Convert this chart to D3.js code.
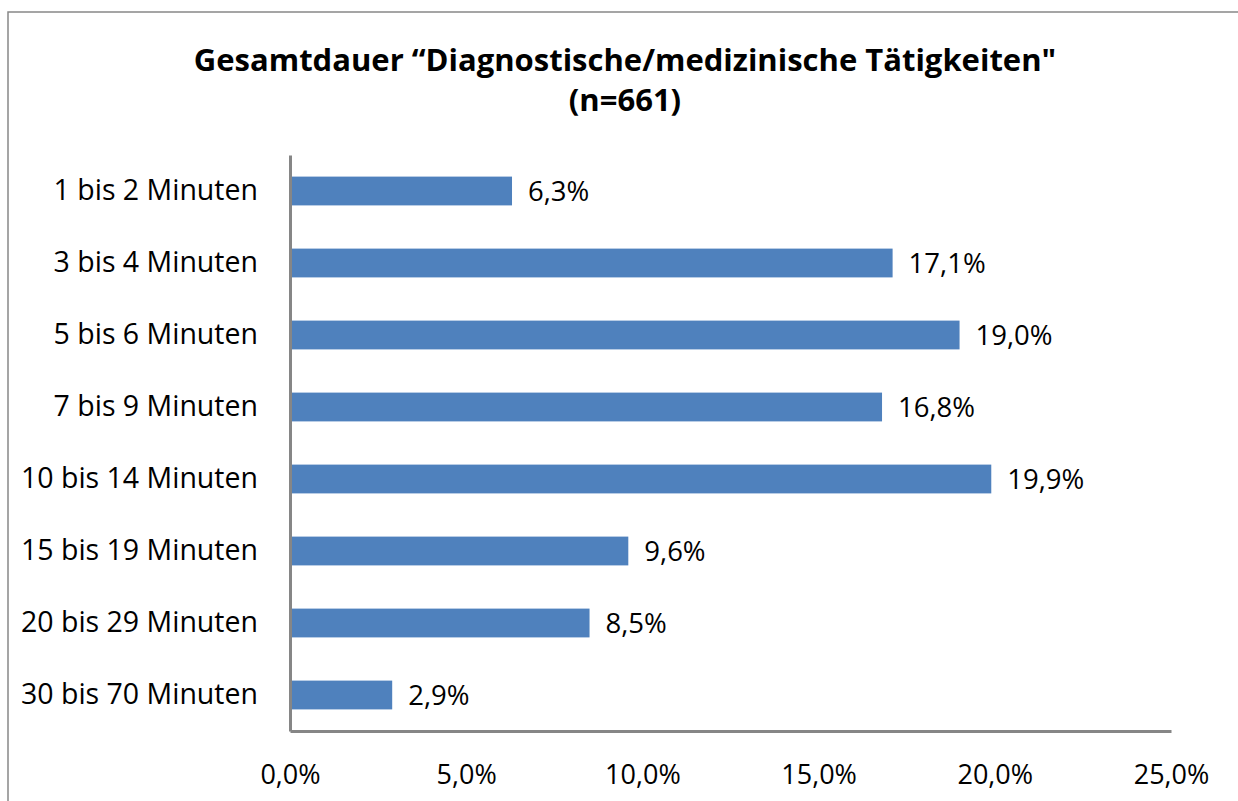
<!DOCTYPE html>
<html>
<head>
<meta charset="utf-8">
<script src="https://cdn.jsdelivr.net/npm/d3@7"></script>
<style>
  body { margin: 0; background: #fff; }
  svg { display: block; font-family: "Open Sans", sans-serif; }
</style>
</head>
<body>
<div id="chart"></div>
<script>
const categories = [
  '1 bis 2 Minuten', '3 bis 4 Minuten', '5 bis 6 Minuten', '7 bis 9 Minuten',
  '10 bis 14 Minuten', '15 bis 19 Minuten', '20 bis 29 Minuten', '30 bis 70 Minuten'
];
const values = [6.3, 17.1, 19.0, 16.8, 19.9, 9.6, 8.5, 2.9];
const xTicks = [0, 5, 10, 15, 20, 25];
const titleLines = ['Gesamtdauer \u201cDiagnostische/medizinische Tätigkeiten"', '(n=661)'];

const W = 1238, H = 801;
const margin = {top: 155, right: 67, bottom: 70, left: 290};
const width = W - margin.left - margin.right;
const height = H - margin.top - margin.bottom;

const fmt = v => v.toFixed(1).replace('.', ',') + '%';

const svg = d3.select('#chart').append('svg')
    .attr('width', W)
    .attr('height', H);

// outer frame
svg.append('rect')
    .attr('x', 8).attr('y', 12)
    .attr('width', W + 10).attr('height', H + 10)
    .attr('fill', 'none')
    .attr('stroke', '#888')
    .attr('stroke-width', 1.5);

svg.append('g')
  .selectAll('text')
  .data(titleLines)
  .join('text')
    .attr('x', 625)
    .attr('y', (d, i) => 71 + i * 40)
    .attr('text-anchor', 'middle')
    .attr('font-weight', 'bold')
    .attr('font-size', 31)
    .attr('fill', '#000')
    .text(d => d);

const g = svg.append('g')
    .attr('transform', `translate(${margin.left},${margin.top})`);

const x = d3.scaleLinear()
    .domain([0, 25])
    .range([0, width]);

const y = d3.scaleBand()
    .domain(categories)
    .range([0, height])
    .paddingInner(0.6)
    .paddingOuter(0.3);

g.selectAll('.bar')
  .data(values)
  .join('rect')
    .attr('class', 'bar')
    .attr('x', 0)
    .attr('y', (d, i) => y(categories[i]))
    .attr('width', d => x(d))
    .attr('height', y.bandwidth())
    .attr('fill', '#4f81bd');

g.selectAll('.val')
  .data(values)
  .join('text')
    .attr('class', 'val')
    .attr('x', d => x(d) + 16)
    .attr('y', (d, i) => y(categories[i]) + y.bandwidth() / 2)
    .attr('dy', '0.36em')
    .attr('font-size', 27.5)
    .attr('fill', '#000')
    .text(fmt);

// category axis
g.append('g')
    .call(d3.axisLeft(y).tickSize(0).tickPadding(32))
    .call(a => a.select('.domain').attr('stroke', '#868686').attr('stroke-width', 3))
    .call(a => a.selectAll('text')
        .attr('font-family', '"Open Sans", sans-serif')
        .attr('font-size', 28.5)
        .attr('fill', '#000'));

// value axis
g.append('g')
    .attr('transform', `translate(0,${height})`)
    .call(d3.axisBottom(x).tickValues(xTicks).tickSize(0).tickPadding(34).tickFormat(fmt))
    .call(a => a.select('.domain').attr('stroke', '#868686').attr('stroke-width', 3))
    .call(a => a.selectAll('text')
        .attr('font-family', '"Open Sans", sans-serif')
        .attr('font-size', 27)
        .attr('fill', '#000'));
</script>
</body>
</html>
